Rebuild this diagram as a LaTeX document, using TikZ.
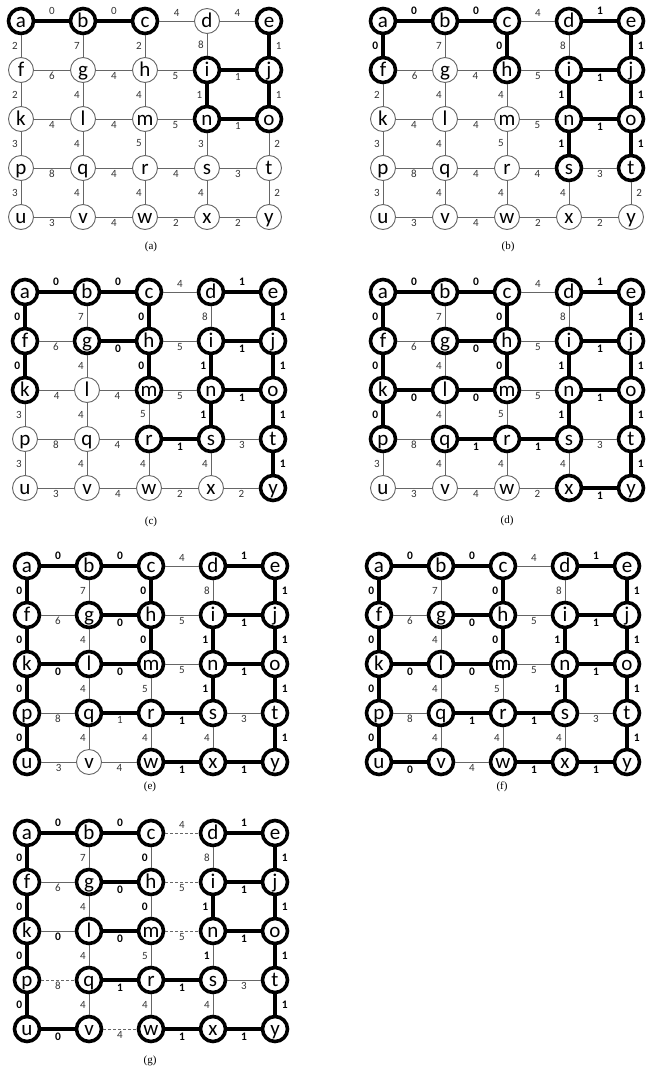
\documentclass[tikz,border=0pt]{standalone}
\usepackage{fontspec}
\setmainfont{Carlito}
\newfontfamily\capfont{Liberation Serif}

\tikzset{
  vtx/.style={circle, draw=black!60, line width=0.9pt, fill=white, minimum size=25pt, inner sep=0pt,
    text height=13pt, text depth=0pt, font=\fontsize{21}{21}\selectfont},
  vtxb/.style={vtx, draw=black, line width=3.6pt},
  en/.style={draw=black!60, line width=0.8pt},
  eb/.style={en},
  ed/.style={en, dash pattern=on 3pt off 2pt},
  et/.style={draw=black, line width=3.8pt},
  er/.style={et},
  wn/.style={inner sep=0.5pt, text=black!80, font=\fontsize{11}{11}\selectfont},
  wr/.style={wn},
  wd/.style={wn},
  wt/.style={inner sep=0.5pt, text=black, font=\fontsize{11.5}{11.5}\selectfont\bfseries},
  wb/.style={wt},
  pN/.style={above=4pt},
  pS/.style={below=1.5pt},
  pW/.style={left=2.5pt},
  pE/.style={right=4.5pt},
  sublabel/.style={font=\capfont\fontsize{11}{11}\selectfont}
}

% #1 name, #2 x, #3 y, #4 bold vertices, #5 edges u/v/weight/kind/side
\newcommand{\drawgrid}[5]{%
  \foreach \n [count=\i from 0] in {a,...,y}{
    \pgfmathsetmacro\cx{#2+62*mod(\i,5)}
    \pgfmathsetmacro\cy{#3+49*div(\i,5)}
    \node[vtx] (#1-\n) at (\cx,\cy) {\n};
  }
  \foreach \n in {#4}
    \node[vtxb] (#1-\n) at (#1-\n) {\n};
  \foreach \u/\v/\w/\s/\p in {#5}
    \draw[e\s] (#1-\u) -- node[w\s,p\p] {\w} (#1-\v);
}

\begin{document}
\begin{tikzpicture}[x=1pt,y=-1pt]
\useasboundingbox (0,0) rectangle (646,1074);

% (a)
\drawgrid{A}{21}{21}{a,b,c,e,i,j,n,o}{
  a/b/0/r/N, b/c/0/r/N, c/d/4/n/N, d/e/4/n/N,
  f/g/6/n/S, g/h/4/n/S, h/i/5/n/S, i/j/1/r/S,
  k/l/4/n/S, l/m/4/n/S, m/n/5/n/S, n/o/1/r/S,
  p/q/8/n/S, q/r/4/n/S, r/s/4/n/S, s/t/3/n/S,
  u/v/3/n/S, v/w/4/n/S, w/x/2/n/S, x/y/2/n/S,
  a/f/2/n/W, f/k/2/n/W, k/p/3/n/W, p/u/3/n/W,
  b/g/7/n/W, g/l/4/n/W, l/q/4/n/W, q/v/4/n/W,
  c/h/2/n/W, h/m/4/n/W, m/r/5/n/W, r/w/4/n/W,
  d/i/8/n/W, i/n/1/r/W, n/s/3/n/W, s/x/4/n/W,
  e/j/1/r/E, j/o/1/r/E, o/t/2/n/E, t/y/2/n/E}
\node[sublabel] (capA) at (151,247) {(a)};

% (b)
\drawgrid{B}{383}{21}{a,b,c,d,e,f,h,i,j,n,o,s,t}{
  a/b/0/t/N, b/c/0/t/N, c/d/4/n/N, d/e/1/t/N,
  f/g/6/n/S, g/h/4/n/S, h/i/5/n/S, i/j/1/t/S,
  k/l/4/n/S, l/m/4/n/S, m/n/5/n/S, n/o/1/t/S,
  p/q/8/n/S, q/r/4/n/S, r/s/4/n/S, s/t/3/n/S,
  u/v/3/n/S, v/w/4/n/S, w/x/2/n/S, x/y/2/n/S,
  a/f/0/t/W, f/k/2/n/W, k/p/3/n/W, p/u/3/n/W,
  b/g/7/n/W, g/l/4/n/W, l/q/4/n/W, q/v/4/n/W,
  c/h/0/t/W, h/m/4/n/W, m/r/5/n/W, r/w/4/n/W,
  d/i/8/n/W, i/n/1/t/W, n/s/1/t/W, s/x/4/n/W,
  e/j/1/t/E, j/o/1/t/E, o/t/1/t/E, t/y/2/n/E}
\node[sublabel] (capB) at (508,247) {(b)};

% (c)
\drawgrid{C}{25}{292}{a,b,c,d,e,f,g,h,i,j,k,m,n,o,r,s,t,y}{
  a/b/0/t/N, b/c/0/t/N, c/d/4/n/N, d/e/1/t/N,
  f/g/6/n/S, g/h/0/t/S, h/i/5/n/S, i/j/1/t/S,
  k/l/4/n/S, l/m/4/n/S, m/n/5/n/S, n/o/1/t/S,
  p/q/8/n/S, q/r/4/n/S, r/s/1/t/S, s/t/3/n/S,
  u/v/3/n/S, v/w/4/n/S, w/x/2/n/S, x/y/2/n/S,
  a/f/0/t/W, f/k/0/t/W, k/p/3/n/W, p/u/3/n/W,
  b/g/7/n/W, g/l/4/n/W, l/q/4/n/W, q/v/4/n/W,
  c/h/0/t/W, h/m/0/t/W, m/r/5/n/W, r/w/4/n/W,
  d/i/8/n/W, i/n/1/t/W, n/s/1/t/W, s/x/4/n/W,
  e/j/1/t/E, j/o/1/t/E, o/t/1/t/E, t/y/1/t/E}
\node[sublabel] (capC) at (151,522) {(c)};

% (d)
\drawgrid{D}{383}{292}{a,b,c,d,e,f,g,h,i,j,k,l,m,n,o,p,q,r,s,t,x,y}{
  a/b/0/t/N, b/c/0/t/N, c/d/4/n/N, d/e/1/t/N,
  f/g/6/n/S, g/h/0/t/S, h/i/5/n/S, i/j/1/t/S,
  k/l/0/t/S, l/m/0/t/S, m/n/5/n/S, n/o/1/t/S,
  p/q/8/n/S, q/r/1/t/S, r/s/1/t/S, s/t/3/n/S,
  u/v/3/n/S, v/w/4/n/S, w/x/2/n/S, x/y/1/t/S,
  a/f/0/t/W, f/k/0/t/W, k/p/0/t/W, p/u/3/n/W,
  b/g/7/n/W, g/l/4/n/W, l/q/4/n/W, q/v/4/n/W,
  c/h/0/t/W, h/m/0/t/W, m/r/5/n/W, r/w/4/n/W,
  d/i/8/n/W, i/n/1/t/W, n/s/1/t/W, s/x/4/n/W,
  e/j/1/t/E, j/o/1/t/E, o/t/1/t/E, t/y/1/t/E}
\node[sublabel] (capD) at (507,521) {(d)};

% (e)
\drawgrid{E}{27}{566}{a,b,c,d,e,f,g,h,i,j,k,l,m,n,o,p,q,r,s,t,u,w,x,y}{
  a/b/0/t/N, b/c/0/t/N, c/d/4/n/N, d/e/1/t/N,
  f/g/6/n/S, g/h/0/t/S, h/i/5/n/S, i/j/1/t/S,
  k/l/0/t/S, l/m/0/t/S, m/n/5/n/S, n/o/1/t/S,
  p/q/8/n/S, q/r/1/r/S, r/s/1/t/S, s/t/3/n/S,
  u/v/3/n/S, v/w/4/n/S, w/x/1/t/S, x/y/1/t/S,
  a/f/0/t/W, f/k/0/t/W, k/p/0/t/W, p/u/0/t/W,
  b/g/7/n/W, g/l/4/n/W, l/q/4/n/W, q/v/4/n/W,
  c/h/0/t/W, h/m/0/t/W, m/r/5/n/W, r/w/4/n/W,
  d/i/8/n/W, i/n/1/t/W, n/s/1/t/W, s/x/4/n/W,
  e/j/1/t/E, j/o/1/t/E, o/t/1/t/E, t/y/1/t/E}
\node[sublabel] (capE) at (150,787) {(e)};

% (f)
\drawgrid{F}{379}{566}{a,...,y}{
  a/b/0/t/N, b/c/0/t/N, c/d/4/n/N, d/e/1/t/N,
  f/g/6/n/S, g/h/0/t/S, h/i/5/n/S, i/j/1/t/S,
  k/l/0/t/S, l/m/0/t/S, m/n/5/n/S, n/o/1/t/S,
  p/q/8/n/S, q/r/1/t/S, r/s/1/t/S, s/t/3/n/S,
  u/v/0/t/S, v/w/4/n/S, w/x/1/t/S, x/y/1/t/S,
  a/f/0/t/W, f/k/0/t/W, k/p/0/t/W, p/u/0/t/W,
  b/g/7/n/W, g/l/4/n/W, l/q/4/n/W, q/v/4/n/W,
  c/h/0/t/W, h/m/0/t/W, m/r/5/n/W, r/w/4/n/W,
  d/i/8/n/W, i/n/1/t/W, n/s/1/t/W, s/x/4/n/W,
  e/j/1/t/E, j/o/1/t/E, o/t/1/t/E, t/y/1/t/E}
\node[sublabel] (capF) at (502,787) {(f)};

% (g)
\drawgrid{G}{27}{833}{a,...,y}{
  a/b/0/t/N, b/c/0/t/N, c/d/4/d/N, d/e/1/t/N,
  f/g/6/n/S, g/h/0/t/S, h/i/5/d/S, i/j/1/t/S,
  k/l/0/b/S, l/m/0/t/S, m/n/5/d/S, n/o/1/t/S,
  p/q/8/d/S, q/r/1/t/S, r/s/1/t/S, s/t/3/n/S,
  u/v/0/t/S, v/w/4/d/S, w/x/1/t/S, x/y/1/t/S,
  a/f/0/t/W, f/k/0/t/W, k/p/0/t/W, p/u/0/t/W,
  b/g/7/n/W, g/l/4/n/W, l/q/4/n/W, q/v/4/n/W,
  c/h/0/b/W, h/m/0/b/W, m/r/5/n/W, r/w/4/n/W,
  d/i/8/n/W, i/n/1/t/W, n/s/1/b/W, s/x/4/n/W,
  e/j/1/t/E, j/o/1/t/E, o/t/1/t/E, t/y/1/t/E}
\node[sublabel] (capG) at (150,1061) {(g)};
\end{tikzpicture}
\end{document}
